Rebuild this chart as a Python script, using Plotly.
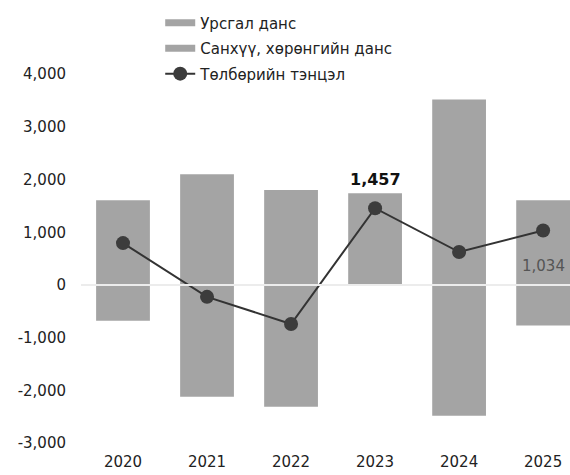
import plotly.graph_objects as go

years = ["2020", "2021", "2022", "2023", "2024", "2025"]
current_account = [-680, -2120, -2310, 0, -2480, -770]
financial_account = [1610, 2100, 1800, 1740, 3520, 1610]
balance = [795, -225, -740, 1457, 625, 1034]
balance_labels = ["", "", "", "1,457", "", "1,034"]

names = ["Урсгал данс", "Санхүү, хөрөнгийн данс", "Төлбөрийн тэнцэл"]

BAR = "#a4a4a4"
LINE = "#333333"
FONT = "DejaVu Sans"

fig = go.Figure()

fig.add_trace(go.Bar(x=years, y=current_account, marker=dict(color=BAR, line=dict(width=0)),
                     width=0.64, showlegend=False, name=names[0]))
fig.add_trace(go.Bar(x=years, y=financial_account, marker=dict(color=BAR, line=dict(width=0)),
                     width=0.64, showlegend=False, name=names[1]))

# legend entries for bar series (wide flat swatches)
for i, nm in enumerate(names[:2]):
    fig.add_trace(go.Scatter(x=[None], y=[None], mode="lines", name=nm, legendgroup=f"g{i}",
                             line=dict(color=BAR, width=7)))

fig.add_trace(go.Scatter(x=years, y=balance, mode="lines+markers", name=names[2],
                         legendgroup="g2",
                         line=dict(color=LINE, width=2),
                         marker=dict(color="#3c3c3c", size=14)))

# data labels (x given as category index)
fig.add_annotation(x=3, y=balance[3], text="<b>" + balance_labels[3] + "</b>",
                   showarrow=False, yshift=29, font=dict(family=FONT, size=16, color="#111"))
fig.add_annotation(x=5, y=balance[5], text=balance_labels[5],
                   showarrow=False, yshift=-36, font=dict(family=FONT, size=15, color="#555"))

fig.add_shape(type="line", xref="paper", x0=0, x1=1, yref="y", y0=0, y1=0,
              line=dict(color="#ececec", width=2), layer="above")

fig.update_layout(
    width=570, height=475,
    margin=dict(l=81, r=0, t=61, b=24, autoexpand=False),
    paper_bgcolor="white", plot_bgcolor="white",
    barmode="relative",
    font=dict(family=FONT, size=15, color="#222"),
    legend=dict(x=0.162, y=1.14, xanchor="left", yanchor="top",
                font=dict(family=FONT, size=15, color="#222"),
                bgcolor="rgba(0,0,0,0)", tracegroupgap=3, itemwidth=30),
    xaxis=dict(type="category", range=[-0.5, 5.32], showgrid=False, zeroline=False, showline=False,
               ticks="", tickfont=dict(size=15), automargin=False),
    yaxis=dict(range=[-3150, 4250], tickvals=[-3000, -2000, -1000, 0, 1000, 2000, 3000, 4000],
               ticktext=["-3,000", "-2,000", "-1,000", "0", "1,000", "2,000", "3,000", "4,000"],
               showgrid=False, zeroline=False, showline=False, ticks="",
               ticklabelstandoff=14, tickfont=dict(size=15), automargin=False),
)

fig.write_html("out.html", config={"displayModeBar": False},
               post_script="document.body.style.margin='0';")
